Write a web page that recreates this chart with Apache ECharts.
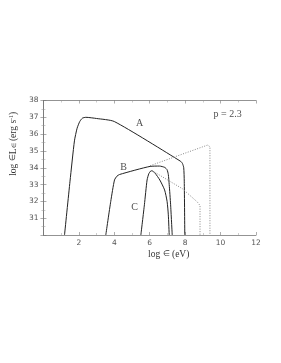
<!DOCTYPE html>
<html><head><meta charset="utf-8">
<script src="https://cdn.jsdelivr.net/npm/echarts@6/dist/echarts.min.js"></script>
<style>html,body{margin:0;padding:0;background:#fff}#c{width:281px;height:363px}</style>
</head><body><div id="c"></div>
<script>
const curveA = [[1.19,30],[1.5,33.2],[1.75,35.6],[1.9,36.35],[2.05,36.75],[2.2,36.95],[2.4,37.0],[3.0,36.93],[4.0,36.75],[7.75,34.38],[7.85,34.25],[7.92,34.0],[7.95,33.2],[7.98,30]];
const curveB = [[3.52,30],[3.8,32.0],[4.01,33.27],[4.15,33.5],[4.3,33.6],[6.02,34.08],[6.55,34.1],[6.85,34.02],[6.98,33.88],[7.05,33.6],[7.1,33.0],[7.18,31.8],[7.27,30]];
const curveC = [[5.5,30],[5.7,31.8],[5.85,33.27],[5.95,33.65],[6.05,33.8],[6.12,33.82],[6.3,33.68],[6.57,33.27],[6.84,32.68],[6.98,32.0],[7.05,31.2],[7.1,30]];
const dottedUpper = [[6.02,34.12],[9.27,35.35],[9.4,35.25],[9.4,30]];
const dottedLower = [[6.15,33.82],[7.0,33.28],[7.85,32.75],[8.7,31.95],[8.84,31.75],[8.84,30]];
const labels = [[5.43,36.63,'A'],[4.52,34.02,'B'],[5.14,31.64,'C'],[10.4,37.17,'p = 2.3']];
const xTicks = [0,2,4,6,8,10,12];
const yTicks = [30,31,32,33,34,35,36,37,38];

const chart = echarts.init(document.getElementById('c'));
const lineStyle = {color:'#222', width:1};
const dotStyle = {color:'#888', width:1, type:[1,1.5]};
const axisCommon = {
  axisLine:{show:true,lineStyle:{color:'#777',width:0.8}},
  axisTick:{show:true,inside:true,length:3,lineStyle:{color:'#777',width:0.6}},
  minorTick:{show:true,splitNumber:2,length:2,lineStyle:{color:'#999',width:0.5}},
  splitLine:{show:false}
};
const serif = {fontFamily:'Liberation Serif',color:'#333'};
chart.setOption({
  animation:false,
  grid:{left:36.7,top:100.5,right:25,bottom:128},
  xAxis:[
    Object.assign({type:'value',min:xTicks[0],max:xTicks[xTicks.length-1],interval:2,position:'bottom',
      name:'{a|log }{e|\u2208}{a| (eV)}',nameLocation:'middle',nameGap:14,
      nameTextStyle:{padding:[0,0,0,38],rich:{a:Object.assign({fontSize:9.5},serif),e:Object.assign({fontSize:8},serif)}},
      axisLabel:{fontFamily:'DejaVu Sans',fontSize:7.5,color:'#555',margin:4,
        formatter:v=>v===0?'':String(v)}},axisCommon),
    Object.assign({type:'value',min:0,max:12,interval:2,position:'top',axisLabel:{show:false}},axisCommon)
  ],
  yAxis:[
    Object.assign({type:'value',min:yTicks[0],max:yTicks[yTicks.length-1],interval:1,position:'left',
      name:'{a|log }{e|\u2208}{a|L}{s|\u2208}{a| (erg s}{p|-1}{a|)}',nameLocation:'middle',nameGap:21,
      nameTextStyle:{color:'#333',padding:[0,0,0,48],
        rich:{a:Object.assign({fontSize:9.5},serif),
              e:Object.assign({fontSize:8},serif),
              s:Object.assign({fontSize:5.5,verticalAlign:'bottom',padding:[4,0,0,0]},serif),
              p:Object.assign({fontSize:6,verticalAlign:'top',padding:[0,0,4,0]},serif)}},
      axisLabel:{fontFamily:'DejaVu Sans',fontSize:7.5,color:'#555',margin:5,
        formatter:v=>v===30?'':String(v)}},axisCommon),
    Object.assign({type:'value',min:30,max:38,interval:1,position:'right',axisLabel:{show:false}},axisCommon)
  ],
  series:[
    {type:'line',data:curveA,showSymbol:false,lineStyle:lineStyle,smooth:0.2},
    {type:'line',data:curveB,showSymbol:false,lineStyle:lineStyle,smooth:0.2},
    {type:'line',data:curveC,showSymbol:false,lineStyle:lineStyle,smooth:0.2},
    {type:'line',data:dottedUpper,showSymbol:false,lineStyle:dotStyle},
    {type:'line',data:dottedLower,showSymbol:false,lineStyle:dotStyle},
    {type:'scatter',symbolSize:0,data:labels.map(l=>({value:[l[0],l[1]],name:l[2]})),
      label:{show:true,position:'inside',formatter:p=>p.name,fontFamily:'Liberation Serif',fontSize:10,color:'#222'}}
  ]
});
</script></body></html>
